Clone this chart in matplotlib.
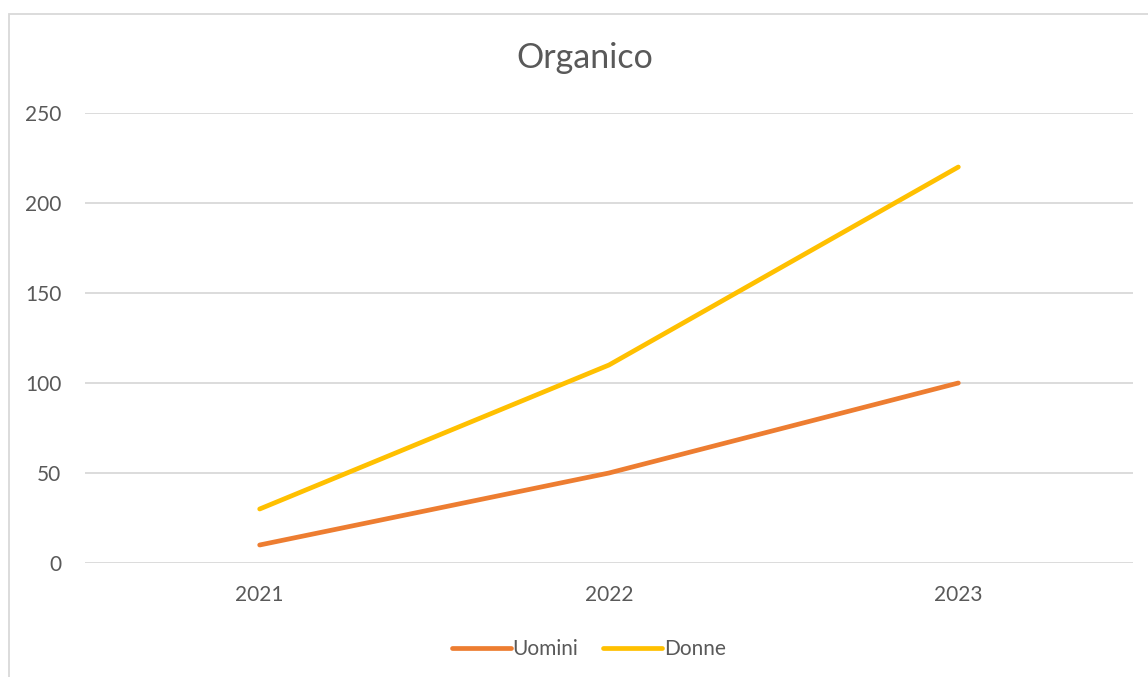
import matplotlib
matplotlib.use("Agg")
import matplotlib.pyplot as plt
from matplotlib.patches import Rectangle

years = ["2021", "2022", "2023"]
uomini = [10, 50, 100]
donne = [30, 110, 220]
yticks = [0, 50, 100, 150, 200, 250]

plt.rcParams['font.family'] = ['Lato', 'DejaVu Sans']
W, H = 1148, 677
fig = plt.figure(figsize=(W/100, H/100), dpi=100)
txt = '#595959'
grid = '#d9d9d9'

# chart area border
fig.patches.append(Rectangle((9/W, -0.1), 1.2, 1 - 14/H + 0.1, transform=fig.transFigure,
                             fill=False, edgecolor=grid, linewidth=1.3))

ax = fig.add_axes([85/W, (H-563)/H, (1133-85)/W, 450/H])
x = list(range(len(years)))
ax.plot(x, uomini, color='#ED7D31', lw=3.4, solid_capstyle='round', label='Uomini')
ax.plot(x, donne, color='#FFC000', lw=3.4, solid_capstyle='round', label='Donne')
ax.set_xlim(-0.5, 2.5)
ax.set_ylim(0, 250)
ax.set_yticks(yticks)
ax.set_xticks(x)
ax.set_xticklabels(years)
for s in ax.spines.values():
    s.set_visible(False)
ax.grid(axis='y', color=grid, lw=1.3)
ax.set_axisbelow(True)
ax.tick_params(length=0, labelsize=15, colors=txt, pad=0)
ax.tick_params(axis='y', pad=17)
ax.tick_params(axis='x', pad=16)
for lab in ax.get_yticklabels():
    lab.set_horizontalalignment('right')

fig.text(585/W, 1 - 58/H, 'Organico', ha='center', va='center', fontsize=24.5, color=txt)
leg = fig.legend(loc='center', bbox_to_anchor=(589/W, 1 - 649/H), ncol=2, frameon=False,
                 fontsize=15, labelcolor=txt, handlelength=2.8, handletextpad=0.1,
                 columnspacing=1.2)
fig.savefig('out.png', dpi=100)
